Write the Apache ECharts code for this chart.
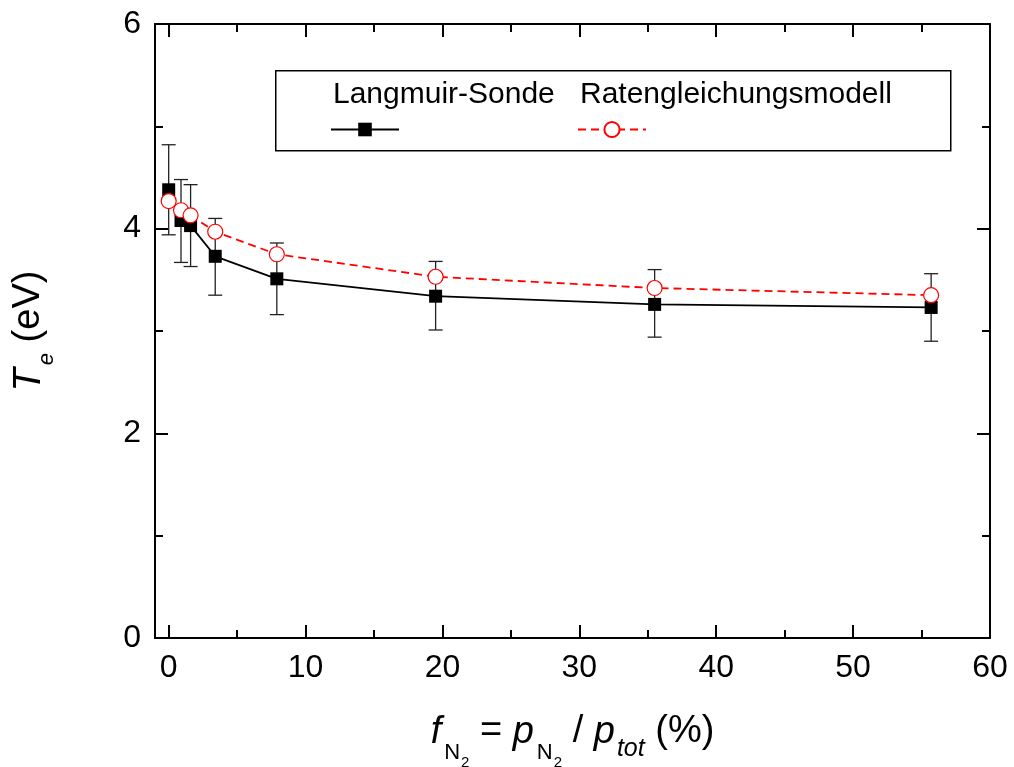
<!DOCTYPE html>
<html>
<head>
<meta charset="utf-8">
<script src="https://cdn.jsdelivr.net/npm/echarts@6/dist/echarts.min.js"></script>
<style>html,body{margin:0;padding:0;background:#fff;}#c{width:1014px;height:767px;}</style>
</head>
<body>
<div id="c"></div>
<script>
const xVals = [0, 0.9, 1.6, 3.4, 7.9, 19.5, 35.5, 55.7];
const probe = [4.38, 4.08, 4.03, 3.73, 3.51, 3.34, 3.26, 3.23];
const probeLow = [3.94, 3.67, 3.63, 3.35, 3.16, 3.01, 2.94, 2.90];
const probeHigh = [4.82, 4.48, 4.43, 4.10, 3.86, 3.68, 3.60, 3.56];
const model = [4.27, 4.18, 4.13, 3.97, 3.75, 3.53, 3.42, 3.35];
const xMajorTicks = [0, 10, 20, 30, 40, 50, 60];
const xMinorTicks = [5, 15, 25, 35, 45, 55];
const seriesNames = ['Langmuir-Sonde', 'Ratengleichungsmodell'];

const FONT = "'Liberation Sans', Arial, sans-serif";
const chart = echarts.init(document.getElementById('c'), null, {renderer: 'canvas'});

function xAxisDef(pos, ticks, len, showLabel, showLine, name) {
  const a = {
    type: 'value', position: pos, min: -1, max: 60,
    axisLine: {show: showLine, onZero: false, lineStyle: {color: '#000', width: 2}},
    axisTick: {show: true, inside: true, length: len, customValues: ticks, lineStyle: {color: '#000', width: 2}},
    axisLabel: {show: showLabel, customValues: ticks, margin: 14, fontSize: 32, color: '#000', fontFamily: FONT},
    splitLine: {show: false}
  };
  if (name) {
    a.name = '{i|f}{s1|N}{s2|2}{n| = }{i|p}{s1|N}{s2|2}{n| / }{i|p}{st|tot}{n| (%)}';
    a.nameLocation = 'middle';
    a.nameGap = 75;
    a.nameTextStyle = {
      color: '#000', fontFamily: FONT,
      rich: {
        i: {fontSize: 38, fontStyle: 'italic', lineHeight: 46, verticalAlign: 'top', fontFamily: FONT, color: '#000'},
        n: {fontSize: 38, lineHeight: 46, verticalAlign: 'top', fontFamily: FONT, color: '#000'},
        s1: {fontSize: 22, lineHeight: 22, verticalAlign: 'top', padding: [29, 0, 0, 3], fontFamily: FONT, color: '#000'},
        s2: {fontSize: 15, lineHeight: 15, verticalAlign: 'top', padding: [42, 0, 0, 1], fontFamily: FONT, color: '#000'},
        st: {fontSize: 25, fontStyle: 'italic', lineHeight: 25, verticalAlign: 'top', padding: [24, 0, 0, 2], fontFamily: FONT, color: '#000'}
      }
    };
  }
  return a;
}

function yAxisDef(pos, showLabel, name) {
  const a = {
    type: 'value', position: pos, min: 0, max: 6, interval: 2,
    axisLine: {show: true, onZero: false, lineStyle: {color: '#000', width: 2}},
    axisTick: {show: true, inside: true, length: 13, lineStyle: {color: '#000', width: 2}},
    minorTick: {show: true, splitNumber: 2, length: 8, lineStyle: {color: '#000', width: 2}},
    axisLabel: {show: showLabel, margin: 14, fontSize: 32, color: '#000', fontFamily: FONT},
    splitLine: {show: false}
  };
  if (name) {
    a.name = '{i|T}{s|e}{n| (eV)}';
    a.nameLocation = 'middle';
    a.nameRotate = 90;
    a.nameGap = 99;
    a.nameTextStyle = {
      color: '#000', fontFamily: FONT,
      rich: {
        i: {fontSize: 38, fontStyle: 'italic', lineHeight: 46, verticalAlign: 'top', fontFamily: FONT, color: '#000'},
        n: {fontSize: 38, lineHeight: 46, verticalAlign: 'top', fontFamily: FONT, color: '#000'},
        s: {fontSize: 22, fontStyle: 'italic', lineHeight: 22, verticalAlign: 'top', padding: [26, 0, 0, 3], fontFamily: FONT, color: '#000'}
      }
    };
  }
  return a;
}

const probeData = xVals.map((x, i) => [x, probe[i]]);
const modelData = xVals.map((x, i) => [x, model[i]]);
const errData = xVals.map((x, i) => [x, probeLow[i], probeHigh[i]]);

const option = {
  backgroundColor: '#fff',
  animation: false,
  grid: {left: 155, right: 24, top: 24, bottom: 129, containLabel: false, outerBoundsMode: 'none'},
  xAxis: [
    xAxisDef('bottom', xMajorTicks, 13, true, true, true),
    xAxisDef('bottom', xMinorTicks, 8, false, false, false),
    xAxisDef('top', xMajorTicks, 13, false, true, false),
    xAxisDef('top', xMinorTicks, 8, false, false, false)
  ],
  yAxis: [
    yAxisDef('left', true, true),
    yAxisDef('right', false, false)
  ],
  legend: [
    {data: [seriesNames[0]], left: 328, top: 80, padding: 0, icon: 'none', itemWidth: 0, itemGap: 0, selectedMode: false,
     textStyle: {fontSize: 30, color: '#000', fontFamily: FONT}},
    {data: [seriesNames[1]], left: 575, top: 80, padding: 0, icon: 'none', itemWidth: 0, itemGap: 0, selectedMode: false,
     textStyle: {fontSize: 30, color: '#000', fontFamily: FONT}},
    {data: [seriesNames[0]], left: 330, top: 121, padding: 0, itemWidth: 68, itemHeight: 17, selectedMode: false,
     formatter: () => '', textStyle: {fontSize: 1}},
    {data: [seriesNames[1]], left: 577, top: 120, padding: 0, itemWidth: 68, itemHeight: 19, selectedMode: false,
     formatter: () => '', textStyle: {fontSize: 1}}
  ],
  graphic: [
    {type: 'rect', left: 275, top: 70, z: -1, shape: {width: 675, height: 80},
     style: {fill: '#fff', stroke: '#000', lineWidth: 1.5}}
  ],
  series: [
    {
      type: 'custom', name: 'err', xAxisIndex: 0, yAxisIndex: 0, z: 1,
      data: errData,
      renderItem: function (params, api) {
        const x = api.value(0);
        const lo = api.coord([x, api.value(1)]);
        const hi = api.coord([x, api.value(2)]);
        const w = 7;
        const st = {stroke: '#222', lineWidth: 1.3};
        return {type: 'group', children: [
          {type: 'line', shape: {x1: lo[0], y1: lo[1], x2: hi[0], y2: hi[1]}, style: st},
          {type: 'line', shape: {x1: lo[0] - w, y1: lo[1], x2: lo[0] + w, y2: lo[1]}, style: st},
          {type: 'line', shape: {x1: hi[0] - w, y1: hi[1], x2: hi[0] + w, y2: hi[1]}, style: st}
        ]};
      },
      silent: true
    },
    {
      type: 'line', name: seriesNames[0], data: probeData, z: 2,
      symbol: 'rect', symbolSize: 13,
      lineStyle: {color: '#000', width: 1.8},
      itemStyle: {color: '#000', borderColor: '#000', borderWidth: 0}
    },
    {
      type: 'line', name: seriesNames[1], data: modelData, z: 3,
      symbol: 'circle', symbolSize: 15,
      lineStyle: {color: '#f00', width: 1.8, type: [8, 5]},
      itemStyle: {color: '#fff', borderColor: '#f00', borderWidth: 1.2}
    }
  ]
};
chart.setOption(option);
</script>
</body>
</html>
